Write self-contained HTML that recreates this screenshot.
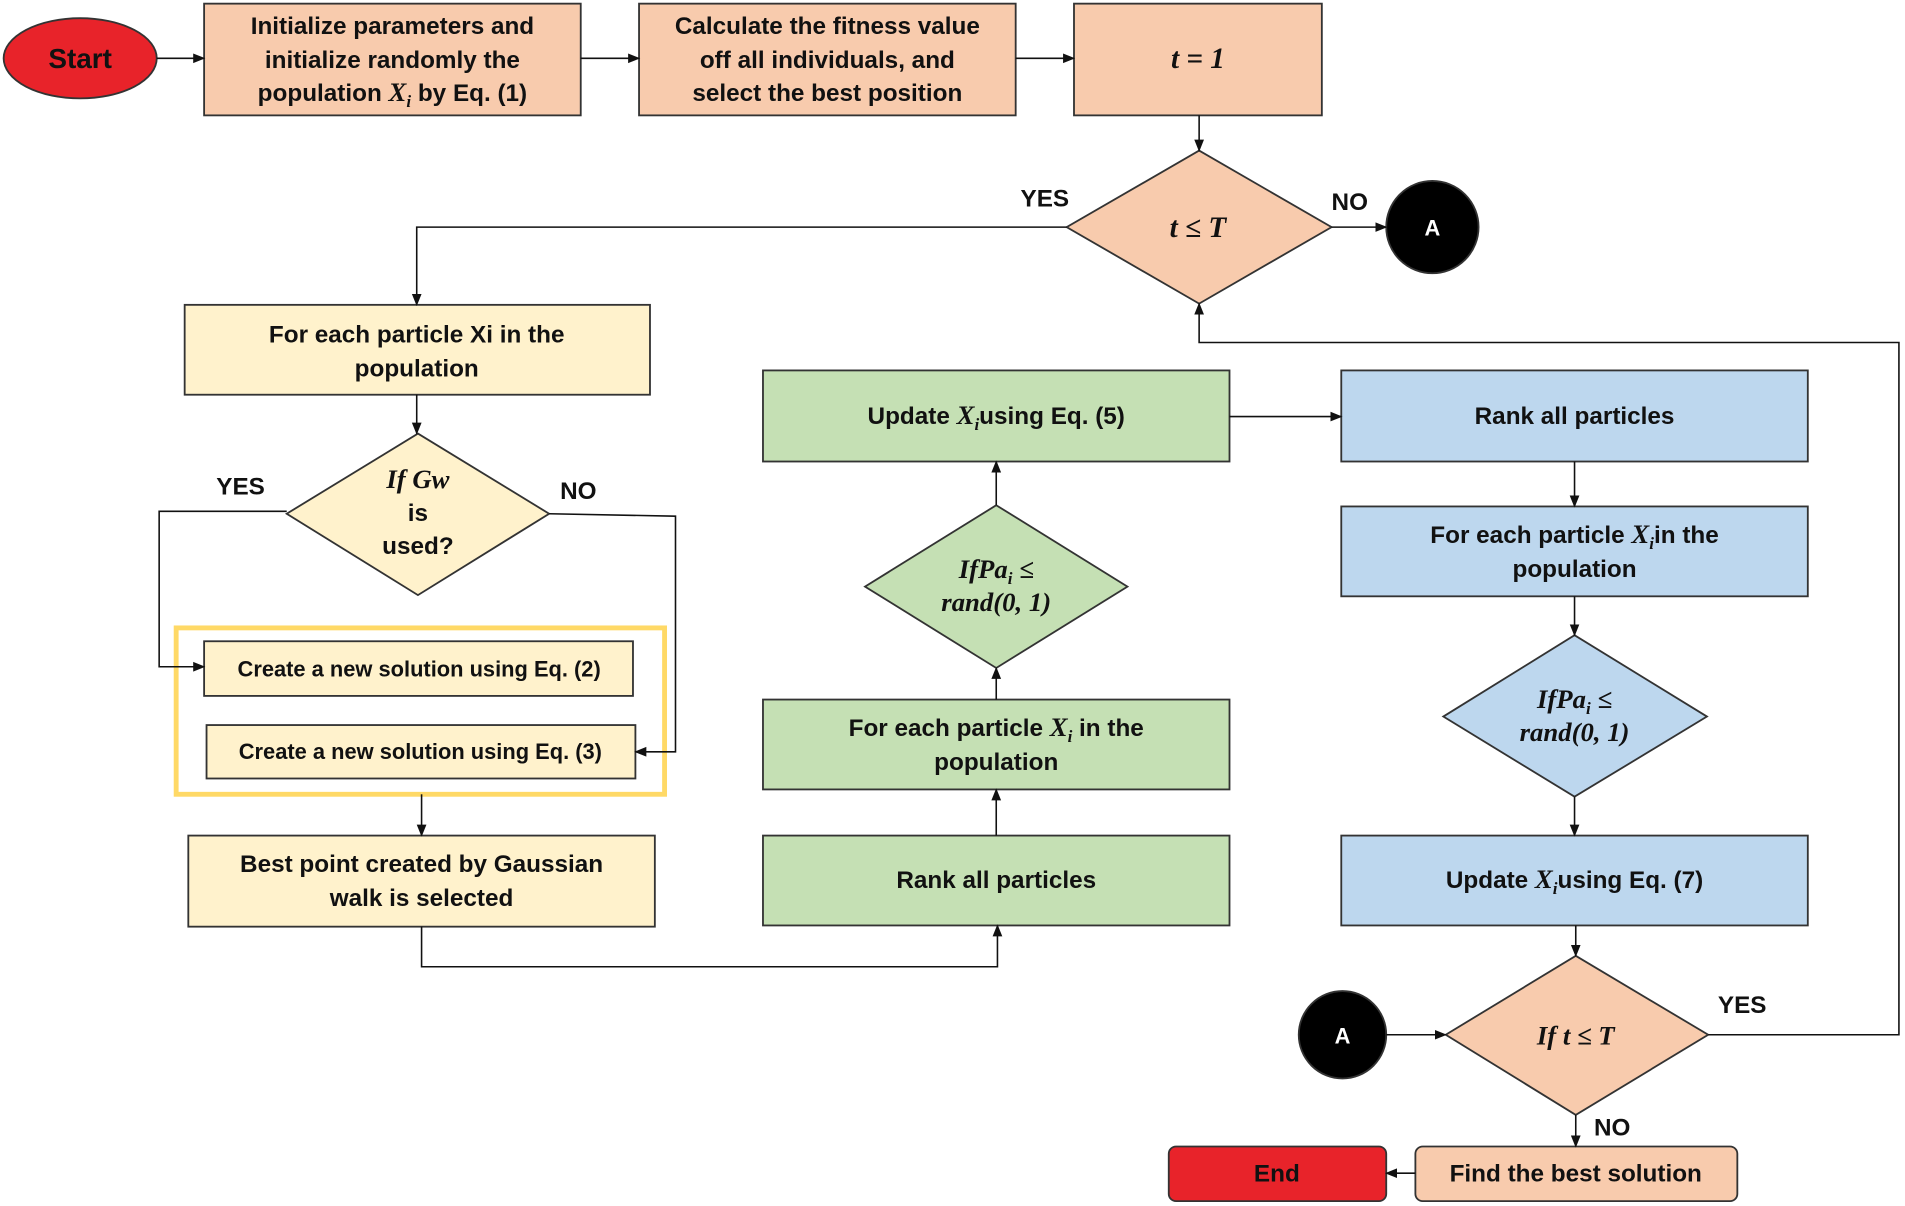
<!DOCTYPE html>
<html><head><meta charset="utf-8"><style>
html,body{margin:0;padding:0;background:#fff;}
svg{display:block;}
text{font-family:"Liberation Sans",Arial,sans-serif;font-weight:bold;font-size:20px;fill:#111;}
.m{font-family:"Liberation Serif",serif;font-style:italic;font-size:22px;}
</style></head><body>
<svg width="1905" height="1206" viewBox="0 0 1568 993" preserveAspectRatio="none" xmlns="http://www.w3.org/2000/svg">
<defs><marker id="a" markerWidth="10" markerHeight="10" refX="9" refY="5" orient="auto" markerUnits="userSpaceOnUse"><path d="M0,1 L10,5 L0,9 z" fill="#111"/></marker></defs>
<g stroke="#333" stroke-width="1.5">
<ellipse cx="66" cy="48" rx="63" ry="33" fill="#e8232a"/>
<rect x="168" y="3" width="310" height="92" fill="#f8cbad"/>
<rect x="526" y="3" width="310" height="92" fill="#f8cbad"/>
<rect x="884" y="3" width="204" height="92" fill="#f8cbad"/>
<polygon points="987,124 1096,187 987,250 878,187" fill="#f8cbad"/>
<circle cx="1179" cy="187" r="38" fill="#000"/>
<rect x="152" y="251" width="383" height="74" fill="#fff2cc"/>
<polygon points="344,357 452,423 344,490 236,423" fill="#fff2cc"/>
<rect x="168" y="528" width="353" height="45" fill="#fff2cc"/>
<rect x="170" y="597" width="353" height="44" fill="#fff2cc"/>
<rect x="155" y="688" width="384" height="75" fill="#fff2cc"/>
<rect x="628" y="305" width="384" height="75" fill="#c5e0b4"/>
<polygon points="820,416 928,483 820,550 712,483" fill="#c5e0b4"/>
<rect x="628" y="576" width="384" height="74" fill="#c5e0b4"/>
<rect x="628" y="688" width="384" height="74" fill="#c5e0b4"/>
<rect x="1104" y="305" width="384" height="75" fill="#bdd7ee"/>
<rect x="1104" y="417" width="384" height="74" fill="#bdd7ee"/>
<polygon points="1296,523 1405,590 1296,656 1188,590" fill="#bdd7ee"/>
<rect x="1104" y="688" width="384" height="74" fill="#bdd7ee"/>
<polygon points="1297,787 1406,852 1297,918 1190,852" fill="#f8cbad"/>
<circle cx="1105" cy="852" r="36" fill="#000"/>
<rect x="1165" y="944" width="265" height="45" rx="6" fill="#f8cbad"/>
<rect x="962" y="944" width="179" height="45" rx="6" fill="#e8232a"/>
</g>
<rect x="145" y="517" width="402" height="137" fill="none" stroke="#ffd966" stroke-width="4"/>
<g stroke="#111" stroke-width="1.3" fill="none" marker-end="url(#a)">
<path d="M129,48H168"/><path d="M478,48H526"/><path d="M836,48H884"/><path d="M987,95V124"/>
<path d="M878,187H343V251"/><path d="M1096,187H1141"/>
<path d="M343,325V357"/>
<path d="M236,421H131V549H168"/><path d="M452,423L556,425V619H523"/>
<path d="M347,654V688"/><path d="M347,763V796H821V762"/>
<path d="M820,688V650"/><path d="M820,576V550"/><path d="M820,416V380"/>
<path d="M1012,343H1104"/>
<path d="M1296,380V417"/><path d="M1296,491V523"/><path d="M1296,656V688"/><path d="M1297,762V787"/>
<path d="M1141,852H1190"/><path d="M1297,918V944"/><path d="M1165,966H1141"/>
<path d="M1406,852H1563V282H987V250"/>
</g>
<g text-anchor="middle">
<text x="66" y="56" font-size="22" style="font-size:23px">Start</text>
<text x="323" y="28">Initialize parameters and</text>
<text x="323" y="56">initialize randomly the</text>
<text x="323" y="83">population <tspan class="m">X<tspan font-size="14" dy="5">i</tspan></tspan><tspan dy="-5"> by Eq. (1)</tspan></text>
<text x="681" y="28">Calculate the fitness value</text>
<text x="681" y="56">off all individuals, and</text>
<text x="681" y="83">select the best position</text>
<text x="986" y="56" class="m" style="font-size:24px">t = 1</text>
<text x="986" y="195" class="m" style="font-size:24px">t ≤ T</text>
<text x="860" y="170">YES</text><text x="1111" y="173">NO</text>
<text x="1179" y="194" style="fill:#fff;font-size:18px">A</text>
<text x="343" y="282">For each particle Xi in the</text>
<text x="343" y="310">population</text>
<text x="344" y="402" class="m">If Gw</text>
<text x="344" y="429">is</text>
<text x="344" y="456">used?</text>
<text x="198" y="407">YES</text><text x="476" y="411">NO</text>
<text x="345" y="557" style="font-size:18px">Create a new solution using Eq. (2)</text>
<text x="346" y="625" style="font-size:18px">Create a new solution using Eq. (3)</text>
<text x="347" y="718">Best point created by Gaussian</text>
<text x="347" y="746">walk is selected</text>
<text x="820" y="349">Update <tspan class="m">X<tspan font-size="14" dy="5">i</tspan></tspan><tspan dy="-5">using Eq. (5)</tspan></text>
<text x="820" y="476" class="m">IfPa<tspan font-size="14" dy="5">i</tspan><tspan dy="-5"> ≤</tspan></text>
<text x="820" y="503" class="m">rand(0, 1)</text>
<text x="820" y="606">For each particle <tspan class="m">X<tspan font-size="14" dy="5">i</tspan></tspan><tspan dy="-5"> in the</tspan></text>
<text x="820" y="634">population</text>
<text x="820" y="731">Rank all particles</text>
<text x="1296" y="349">Rank all particles</text>
<text x="1296" y="447">For each particle <tspan class="m">X<tspan font-size="14" dy="5">i</tspan></tspan><tspan dy="-5">in the</tspan></text>
<text x="1296" y="475">population</text>
<text x="1296" y="583" class="m">IfPa<tspan font-size="14" dy="5">i</tspan><tspan dy="-5"> ≤</tspan></text>
<text x="1296" y="610" class="m">rand(0, 1)</text>
<text x="1296" y="731">Update <tspan class="m">X<tspan font-size="14" dy="5">i</tspan></tspan><tspan dy="-5">using Eq. (7)</tspan></text>
<text x="1297" y="860" class="m">If t ≤ T</text>
<text x="1434" y="834">YES</text><text x="1327" y="935">NO</text>
<text x="1105" y="859" style="fill:#fff;font-size:18px">A</text>
<text x="1297" y="973">Find the best solution</text>
<text x="1051" y="973">End</text>
</g>
</svg>
</body></html>
